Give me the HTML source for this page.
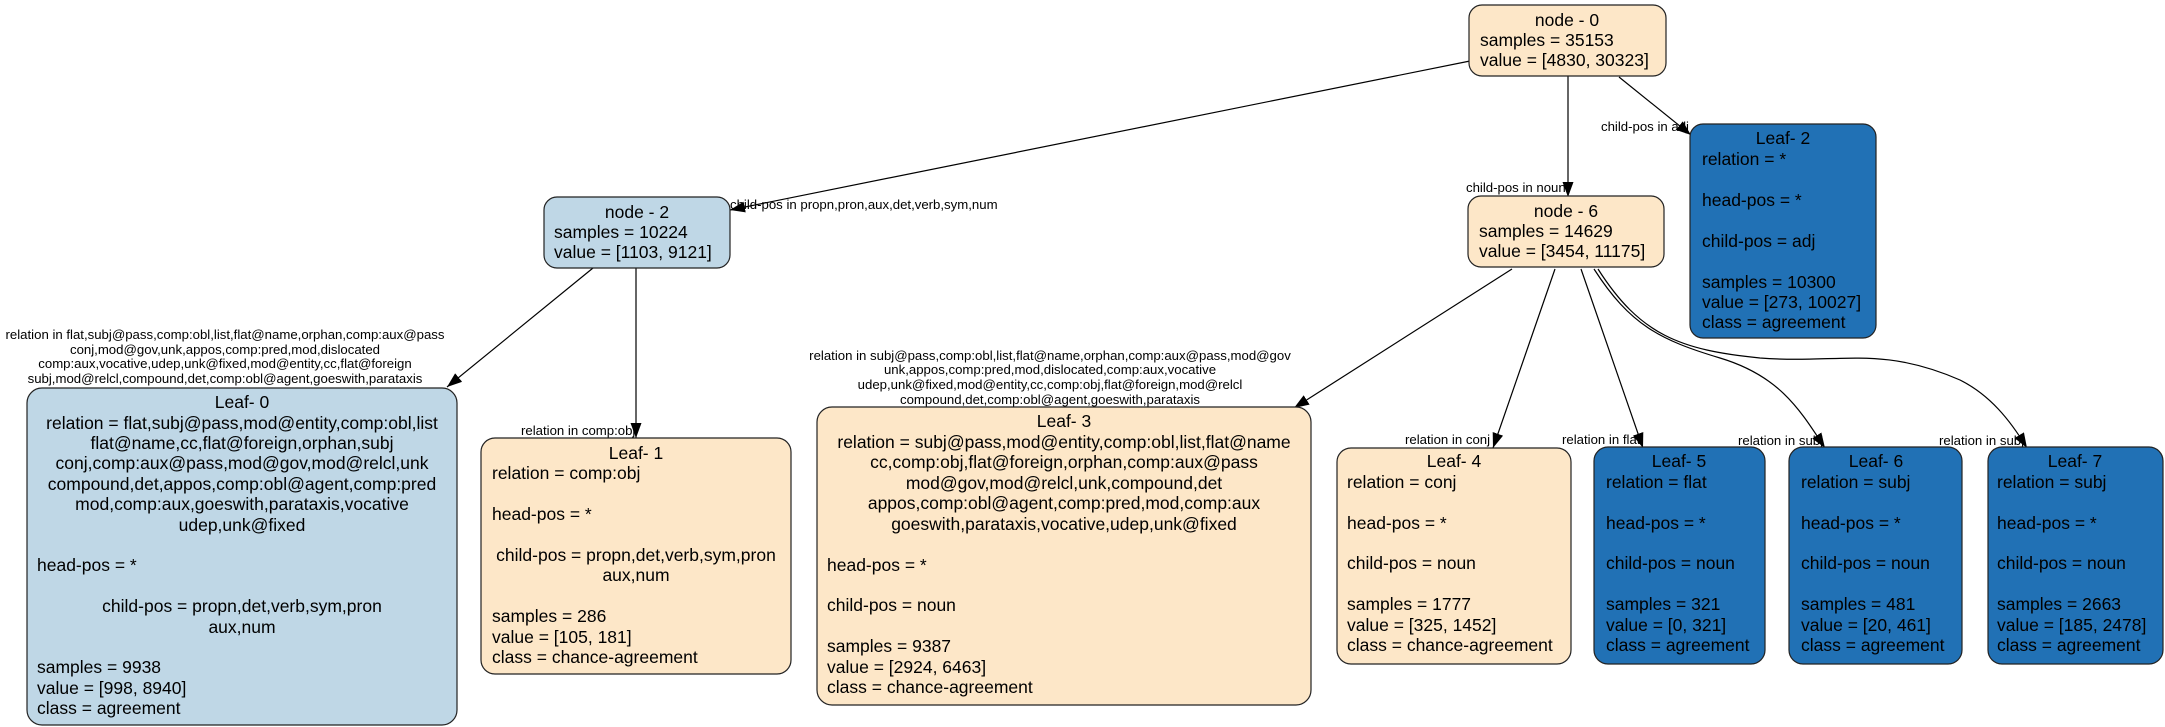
<!DOCTYPE html>
<html><head><meta charset="utf-8"><style>
html,body{margin:0;padding:0;background:#fff;}
svg{display:block;font-family:"Liberation Sans",Arial,sans-serif;}
.n{font-size:17.5px;fill:#000;}
.e{font-size:13.2px;fill:#000;}
.b{fill:#fde7c8;stroke:#222;stroke-width:1.2;}
.lb{fill:#bfd7e6;stroke:#222;stroke-width:1.2;}
.db{fill:#2171b5;stroke:#222;stroke-width:1.2;}
.ed{fill:none;stroke:#000;stroke-width:1.2;marker-end:url(#ar);}
.c{text-anchor:middle;}
</style></head><body>
<svg width="2165" height="727" viewBox="0 0 2165 727" xmlns="http://www.w3.org/2000/svg">
<defs><marker id="ar" markerUnits="userSpaceOnUse" markerWidth="16" markerHeight="12" refX="15" refY="5.5" orient="auto"><path d="M0,0 L15,5.5 L0,11 z" fill="#000"/></marker></defs>

<path class="ed" d="M1470,61 L730,210"/>
<path class="ed" d="M1568,76 L1568,197"/>
<path class="ed" d="M1619,77 L1691,135"/>
<path class="ed" d="M593,268 L447,387"/>
<path class="ed" d="M636,268 L636,438"/>
<path class="ed" d="M1512,269 L1294,408"/>
<path class="ed" d="M1555,269 L1493,448"/>
<path class="ed" d="M1581,269 L1643,448"/>
<path class="ed" d="M1594,269 C1630,325 1660,340 1720,358 C1780,376 1800,410 1825,448"/>
<path class="ed" d="M1598,269 C1640,335 1680,350 1760,358 C1840,364 1880,345 1960,380 C1990,395 2010,420 2027,448"/>

<text class="e" x="730" y="209">child-pos in propn,pron,aux,det,verb,sym,num</text>
<text class="e" x="1601" y="131">child-pos in adj</text>
<text class="e" x="1466" y="192">child-pos in noun</text>
<text class="e" x="521" y="435">relation in comp:obj</text>
<text class="e" x="1405" y="444">relation in conj</text>
<text class="e" x="1562" y="444">relation in flat</text>
<text class="e" x="1738" y="445">relation in subj</text>
<text class="e" x="1939" y="445">relation in subj</text>
<g class="e c">
<text x="225" y="339">relation in flat,subj@pass,comp:obl,list,flat@name,orphan,comp:aux@pass</text>
<text x="225" y="354">conj,mod@gov,unk,appos,comp:pred,mod,dislocated</text>
<text x="225" y="368">comp:aux,vocative,udep,unk@fixed,mod@entity,cc,flat@foreign</text>
<text x="225" y="383">subj,mod@relcl,compound,det,comp:obl@agent,goeswith,parataxis</text>
<text x="1050" y="360">relation in subj@pass,comp:obl,list,flat@name,orphan,comp:aux@pass,mod@gov</text>
<text x="1050" y="374">unk,appos,comp:pred,mod,dislocated,comp:aux,vocative</text>
<text x="1050" y="389">udep,unk@fixed,mod@entity,cc,comp:obj,flat@foreign,mod@relcl</text>
<text x="1050" y="404">compound,det,comp:obl@agent,goeswith,parataxis</text>
</g>

<rect class="b" x="1469" y="5" width="197" height="71" rx="13"/>
<g class="n"><text class="c" x="1567" y="26">node - 0</text><text x="1480" y="46">samples = 35153</text><text x="1480" y="66">value = [4830, 30323]</text></g>
<rect class="lb" x="544" y="197" width="186" height="71" rx="13"/>
<g class="n"><text class="c" x="637" y="218">node - 2</text><text x="554" y="238">samples = 10224</text><text x="554" y="258">value = [1103, 9121]</text></g>
<rect class="b" x="1468" y="196" width="196" height="71" rx="13"/>
<g class="n"><text class="c" x="1566" y="217">node - 6</text><text x="1479" y="237">samples = 14629</text><text x="1479" y="257">value = [3454, 11175]</text></g>

<rect class="db" x="1690" y="124" width="186" height="214" rx="13"/>
<g class="n"><text class="c" x="1783" y="144">Leaf- 2</text>
<text x="1702" y="165">relation = *</text><text x="1702" y="206">head-pos = *</text><text x="1702" y="247">child-pos = adj</text>
<text x="1702" y="288">samples = 10300</text><text x="1702" y="308">value = [273, 10027]</text><text x="1702" y="328">class = agreement</text></g>

<rect class="lb" x="27" y="388" width="430" height="337" rx="15"/>
<g class="n">
<text class="c" x="242" y="408">Leaf- 0</text>
<text class="c" x="242" y="429">relation = flat,subj@pass,mod@entity,comp:obl,list</text>
<text class="c" x="242" y="449">flat@name,cc,flat@foreign,orphan,subj</text>
<text class="c" x="242" y="469">conj,comp:aux@pass,mod@gov,mod@relcl,unk</text>
<text class="c" x="242" y="490">compound,det,appos,comp:obl@agent,comp:pred</text>
<text class="c" x="242" y="510">mod,comp:aux,goeswith,parataxis,vocative</text>
<text class="c" x="242" y="531">udep,unk@fixed</text>
<text x="37" y="571">head-pos = *</text>
<text class="c" x="242" y="612">child-pos = propn,det,verb,sym,pron</text>
<text class="c" x="242" y="633">aux,num</text>
<text x="37" y="673">samples = 9938</text>
<text x="37" y="694">value = [998, 8940]</text>
<text x="37" y="714">class = agreement</text>
</g>

<rect class="b" x="481" y="438" width="310" height="236" rx="14"/>
<g class="n">
<text class="c" x="636" y="459">Leaf- 1</text>
<text x="492" y="479">relation = comp:obj</text>
<text x="492" y="520">head-pos = *</text>
<text class="c" x="636" y="561">child-pos = propn,det,verb,sym,pron</text>
<text class="c" x="636" y="581">aux,num</text>
<text x="492" y="622">samples = 286</text>
<text x="492" y="643">value = [105, 181]</text>
<text x="492" y="663">class = chance-agreement</text>
</g>

<rect class="b" x="817" y="407" width="494" height="298" rx="15"/>
<g class="n">
<text class="c" x="1064" y="427">Leaf- 3</text>
<text class="c" x="1064" y="448">relation = subj@pass,mod@entity,comp:obl,list,flat@name</text>
<text class="c" x="1064" y="468">cc,comp:obj,flat@foreign,orphan,comp:aux@pass</text>
<text class="c" x="1064" y="489">mod@gov,mod@relcl,unk,compound,det</text>
<text class="c" x="1064" y="509">appos,comp:obl@agent,comp:pred,mod,comp:aux</text>
<text class="c" x="1064" y="530">goeswith,parataxis,vocative,udep,unk@fixed</text>
<text x="827" y="571">head-pos = *</text>
<text x="827" y="611">child-pos = noun</text>
<text x="827" y="652">samples = 9387</text>
<text x="827" y="673">value = [2924, 6463]</text>
<text x="827" y="693">class = chance-agreement</text>
</g>

<rect class="b" x="1337" y="448" width="234" height="216" rx="14"/>
<g class="n">
<text class="c" x="1454" y="467">Leaf- 4</text>
<text x="1347" y="488">relation = conj</text><text x="1347" y="529">head-pos = *</text><text x="1347" y="569">child-pos = noun</text>
<text x="1347" y="610">samples = 1777</text><text x="1347" y="631">value = [325, 1452]</text><text x="1347" y="651">class = chance-agreement</text>
</g>
<rect class="db" x="1594" y="447" width="171" height="217" rx="14"/>
<g class="n">
<text class="c" x="1679" y="467">Leaf- 5</text>
<text x="1606" y="488">relation = flat</text><text x="1606" y="529">head-pos = *</text><text x="1606" y="569">child-pos = noun</text>
<text x="1606" y="610">samples = 321</text><text x="1606" y="631">value = [0, 321]</text><text x="1606" y="651">class = agreement</text>
</g>
<rect class="db" x="1789" y="447" width="173" height="217" rx="14"/>
<g class="n">
<text class="c" x="1876" y="467">Leaf- 6</text>
<text x="1801" y="488">relation = subj</text><text x="1801" y="529">head-pos = *</text><text x="1801" y="569">child-pos = noun</text>
<text x="1801" y="610">samples = 481</text><text x="1801" y="631">value = [20, 461]</text><text x="1801" y="651">class = agreement</text>
</g>
<rect class="db" x="1988" y="447" width="175" height="217" rx="14"/>
<g class="n">
<text class="c" x="2075" y="467">Leaf- 7</text>
<text x="1997" y="488">relation = subj</text><text x="1997" y="529">head-pos = *</text><text x="1997" y="569">child-pos = noun</text>
<text x="1997" y="610">samples = 2663</text><text x="1997" y="631">value = [185, 2478]</text><text x="1997" y="651">class = agreement</text>
</g>
</svg>
</body></html>
